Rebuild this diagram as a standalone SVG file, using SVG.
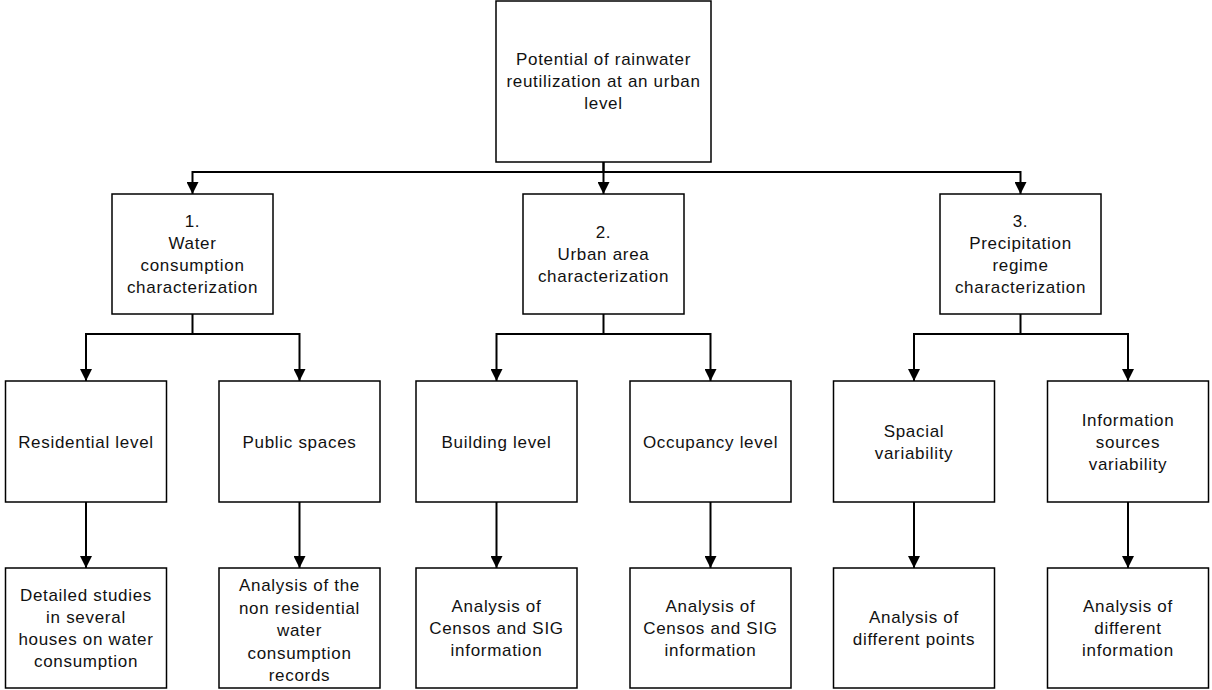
<svg xmlns="http://www.w3.org/2000/svg" width="1212" height="690" viewBox="0 0 1212 690">
<style>
.box{fill:#fff;stroke:#000;stroke-width:1.5}
.t{font-family:"Liberation Sans",Arial,sans-serif;font-size:17px;letter-spacing:0.7px;fill:#111;text-anchor:middle}
.c{fill:none;stroke:#000;stroke-width:2}
</style>
<defs>
<marker id="arr" markerUnits="userSpaceOnUse" markerWidth="12" markerHeight="12" refX="12" refY="6" orient="auto">
<path d="M0,0 L12,6 L0,12 z" fill="#000"/>
</marker>
</defs>
<rect width="1212" height="690" fill="#fff"/>
<g id="connectors">
<path class="c" d="M603.5,162 V172 H192.5 V194" marker-end="url(#arr)"/>
<path class="c" d="M603.5,162 V194" marker-end="url(#arr)"/>
<path class="c" d="M603.5,172 H1020.5 V194" marker-end="url(#arr)"/>
<path class="c" d="M192.5,314 V334 H86 V381" marker-end="url(#arr)"/>
<path class="c" d="M192.5,334 H299.5 V381" marker-end="url(#arr)"/>
<path class="c" d="M603.5,314 V334 H496.5 V381" marker-end="url(#arr)"/>
<path class="c" d="M603.5,334 H710.5 V381" marker-end="url(#arr)"/>
<path class="c" d="M1020.5,314 V334 H914 V381" marker-end="url(#arr)"/>
<path class="c" d="M1020.5,334 H1128 V381" marker-end="url(#arr)"/>
<path class="c" d="M86,502 V568" marker-end="url(#arr)"/>
<path class="c" d="M299.5,502 V568" marker-end="url(#arr)"/>
<path class="c" d="M496.5,502 V568" marker-end="url(#arr)"/>
<path class="c" d="M710.5,502 V568" marker-end="url(#arr)"/>
<path class="c" d="M914,502 V568" marker-end="url(#arr)"/>
<path class="c" d="M1128,502 V568" marker-end="url(#arr)"/>
</g>
<g id="root">
<rect class="box" x="496" y="1" width="215" height="161"/>
<text class="t" x="603.5" y="65">Potential of rainwater</text>
<text class="t" x="603.5" y="87">reutilization at an urban</text>
<text class="t" x="603.5" y="109">level</text>
</g>
<g id="n1">
<rect class="box" x="112" y="194" width="161" height="120"/>
<text class="t" x="192.5" y="227">1.</text>
<text class="t" x="192.5" y="249">Water</text>
<text class="t" x="192.5" y="271">consumption</text>
<text class="t" x="192.5" y="293">characterization</text>
</g>
<g id="n2">
<rect class="box" x="523" y="194" width="161" height="120"/>
<text class="t" x="603.5" y="238">2.</text>
<text class="t" x="603.5" y="260">Urban area</text>
<text class="t" x="603.5" y="282">characterization</text>
</g>
<g id="n3">
<rect class="box" x="940" y="194" width="161" height="120"/>
<text class="t" x="1020.5" y="227">3.</text>
<text class="t" x="1020.5" y="249">Precipitation</text>
<text class="t" x="1020.5" y="271">regime</text>
<text class="t" x="1020.5" y="293">characterization</text>
</g>
<g id="n11">
<rect class="box" x="5.5" y="381" width="161" height="121"/>
<text class="t" x="86" y="448">Residential level</text>
</g>
<g id="n12">
<rect class="box" x="219" y="381" width="161" height="121"/>
<text class="t" x="299.5" y="448">Public spaces</text>
</g>
<g id="n21">
<rect class="box" x="416" y="381" width="161" height="121"/>
<text class="t" x="496.5" y="448">Building level</text>
</g>
<g id="n22">
<rect class="box" x="630" y="381" width="161" height="121"/>
<text class="t" x="710.5" y="448">Occupancy level</text>
</g>
<g id="n31">
<rect class="box" x="833.5" y="381" width="161" height="121"/>
<text class="t" x="914" y="437">Spacial</text>
<text class="t" x="914" y="459">variability</text>
</g>
<g id="n32">
<rect class="box" x="1047.5" y="381" width="161" height="121"/>
<text class="t" x="1128" y="426">Information</text>
<text class="t" x="1128" y="448">sources</text>
<text class="t" x="1128" y="470">variability</text>
</g>
<g id="n111">
<rect class="box" x="5.5" y="568" width="161" height="120"/>
<text class="t" x="86" y="601">Detailed studies</text>
<text class="t" x="86" y="623">in several</text>
<text class="t" x="86" y="645">houses on water</text>
<text class="t" x="86" y="667">consumption</text>
</g>
<g id="n121">
<rect class="box" x="219" y="568" width="161" height="120"/>
<text class="t" x="299.5" y="591">Analysis of the</text>
<text class="t" x="299.5" y="613.5">non residential</text>
<text class="t" x="299.5" y="636">water</text>
<text class="t" x="299.5" y="658.5">consumption</text>
<text class="t" x="299.5" y="681">records</text>
</g>
<g id="n211">
<rect class="box" x="416" y="568" width="161" height="120"/>
<text class="t" x="496.5" y="612">Analysis of</text>
<text class="t" x="496.5" y="634">Censos and SIG</text>
<text class="t" x="496.5" y="656">information</text>
</g>
<g id="n221">
<rect class="box" x="630" y="568" width="161" height="120"/>
<text class="t" x="710.5" y="612">Analysis of</text>
<text class="t" x="710.5" y="634">Censos and SIG</text>
<text class="t" x="710.5" y="656">information</text>
</g>
<g id="n311">
<rect class="box" x="833.5" y="568" width="161" height="120"/>
<text class="t" x="914" y="623">Analysis of</text>
<text class="t" x="914" y="645">different points</text>
</g>
<g id="n321">
<rect class="box" x="1047.5" y="568" width="161" height="120"/>
<text class="t" x="1128" y="612">Analysis of</text>
<text class="t" x="1128" y="634">different</text>
<text class="t" x="1128" y="656">information</text>
</g>
</svg>
